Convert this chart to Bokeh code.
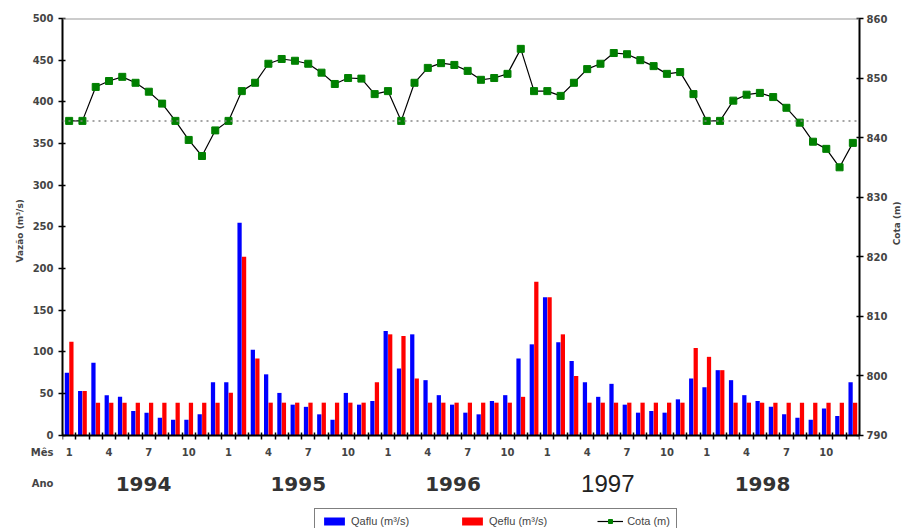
import math
from bokeh.plotting import figure
from bokeh.models import (Range1d, LinearAxis, FixedTicker, Span, Label,
                          Legend, LegendItem, Title)
from bokeh.embed import file_html
from bokeh.resources import INLINE

# ---------------- data ----------------
years = ["1994", "1995", "1996", "1997", "1998"]
month_numbers = list(range(1, 13)) * 5
months = list(range(1, 61))
qaflu = [75, 53, 87, 48, 46, 29, 27, 21, 18.5, 18.5, 25, 63.5,
         63.5, 255, 102.6, 73, 50.7, 36.6, 34, 25, 18.5, 50.7, 36.6, 41,
         125, 80, 121, 66, 48, 36.6, 27, 25, 41, 48, 92, 109,
         165.5, 111.5, 89, 63.5, 46, 61.6, 36.6, 27, 29, 27, 43, 68,
         57.5, 78, 66, 48, 41, 34, 25, 21, 18.5, 32, 23, 63.5]
qeflu = [112, 53, 39, 39, 39, 39, 39, 39, 39, 39, 39, 39,
         51, 214, 92, 39, 39, 39, 39, 39, 39, 39, 39, 63.5,
         121, 119, 68, 39, 39, 39, 39, 39, 39, 39, 46, 184,
         165.5, 121, 71, 39, 39, 39, 39, 39, 39, 39, 39, 104.6,
         94, 78, 39, 39, 39, 39, 39, 39, 39, 39, 39, 39]
cota = [842.8, 842.8, 848.5, 849.5, 850.2, 849.2, 847.7, 845.7, 842.8, 839.6, 836.9, 841.2,
        842.8, 847.8, 849.2, 852.4, 853.2, 852.9, 852.4, 850.9, 849.0, 850.0, 849.9, 847.3,
        847.8, 842.8, 849.2, 851.7, 852.5, 852.2, 851.2, 849.7, 850.0, 850.7, 854.9, 847.8,
        847.8, 847.0, 849.2, 851.5, 852.4, 854.2, 854.0, 853.0, 852.0, 850.7, 851.0, 847.3,
        842.8, 842.8, 846.2, 847.2, 847.5, 846.8, 845.0, 842.5, 839.3, 838.1, 835.0, 839.1]
cota_ref = 842.8
vazao_ticks = list(range(0, 501, 50))
cota_ticks = list(range(790, 861, 10))
label_months = [1, 4, 7, 10]

FONT = "DejaVu Sans"

# room below the value axes (fraction of the axis span) for month/year rows and legend
pad = 112 / 500
vmin, vmax = vazao_ticks[0], vazao_ticks[-1]
cmin, cmax = cota_ticks[0], cota_ticks[-1]

p = figure(width=910, height=528, output_backend="svg", toolbar_location=None,
           x_range=Range1d(0.5, 60.5),
           y_range=Range1d(vmin - pad * (vmax - vmin), vmax),
           min_border_left=62, min_border_right=47, min_border_top=18,
           min_border_bottom=0)
p.extra_y_ranges = {"cota": Range1d(cmin - pad * (cmax - cmin), cmax)}
p.xgrid.visible = False
p.ygrid.visible = False
p.outline_line_color = None

# top border
p.add_layout(Span(location=vmax, dimension="width", line_color="#999999", line_width=2))

# bars
off = 0.17
bw = 0.32
r_a = p.vbar(x=[m - off for m in months], top=qaflu, width=bw,
             fill_color="#0000FF", line_color=None)
r_e = p.vbar(x=[m + off for m in months], top=qeflu, width=bw,
             fill_color="#FF0000", line_color=None)

# reference level
p.add_layout(Span(location=cota_ref, dimension="width", y_range_name="cota",
                  line_color="#888888", line_dash="dotted", line_width=1.5))

# cota line
r_l = p.line(months, cota, y_range_name="cota", line_color="black", line_width=1.2)
r_m = p.scatter(months, cota, y_range_name="cota", marker="square", size=7,
                fill_color="#008000", line_color="#008000")

# x axis at value 0: month labels, minor ticks at month boundaries
xa = p.xaxis[0]
xa.fixed_location = 0
major = [m for m, n in zip(months, month_numbers) if n in label_months]
xa.ticker = FixedTicker(ticks=major, minor_ticks=[m + 0.5 for m in [0] + months])
xa.major_label_overrides = {m: str(n) for m, n in zip(months, month_numbers) if n in label_months}
xa.major_tick_in = 0
xa.major_tick_out = 0
xa.minor_tick_in = 3
xa.minor_tick_out = 4
xa.minor_tick_line_color = "black"
xa.minor_tick_line_width = 1.5
xa.major_label_standoff = 9
xa.axis_line_color = "black"
xa.axis_line_width = 2
xa.major_label_text_font = FONT
xa.major_label_text_font_style = "bold"
xa.major_label_text_font_size = "10px"

# left side: inner axis (line + ticks), middle axis (labels + row titles), outer title
row_mes = -21
row_ano = -58
ya = p.yaxis[0]
ya.ticker = FixedTicker(ticks=vazao_ticks)
ya.bounds = (vmin, vmax)
ya.major_label_overrides = {v: "" for v in vazao_ticks}
ya.major_label_standoff = 0
ya.major_tick_in = 3
ya.major_tick_out = 4
ya.major_tick_line_width = 1.5
ya.minor_tick_line_color = None
ya.axis_line_width = 2

mid = LinearAxis(ticker=FixedTicker(ticks=vazao_ticks + [row_mes, row_ano]),
                 major_label_overrides={row_mes: "Mês", row_ano: "Ano"})
mid.axis_line_color = None
mid.major_tick_line_color = None
mid.minor_tick_line_color = None
mid.major_tick_out = 0
mid.major_tick_in = 0
mid.major_label_standoff = 5
mid.major_label_text_font = FONT
mid.major_label_text_font_style = "bold"
mid.major_label_text_font_size = "10px"
p.add_layout(mid, "left")

p.add_layout(Title(text="Vazão (m³/s)", align="left", offset=266, standoff=6,
                   text_font=FONT, text_font_style="bold", text_font_size="9px"),
             "left")

# right axis
ra = LinearAxis(y_range_name="cota", ticker=FixedTicker(ticks=cota_ticks),
                bounds=(cmin, cmax))
ra.axis_label = "\u00a0" * 9 + "Cota (m)"
ra.axis_label_text_font = FONT
ra.axis_label_text_font_style = "bold"
ra.axis_label_text_font_size = "9px"
ra.axis_label_standoff = 7
if "axis_label_orientation" in LinearAxis.properties():
    ra.axis_label_orientation = math.pi / 2
ra.major_label_text_font = FONT
ra.major_label_text_font_style = "bold"
ra.major_label_text_font_size = "10px"
ra.major_label_standoff = 3
ra.major_tick_in = 3
ra.major_tick_out = 4
ra.major_tick_line_width = 1.5
ra.minor_tick_line_color = None
ra.axis_line_width = 2
p.add_layout(ra, "right")

# year labels
for i, yr in enumerate(years):
    big = yr == "1997"
    p.add_layout(Label(x=11.65 * i + 6.6, y=row_ano, text=yr,
                       text_align="center", text_baseline="middle",
                       text_font="Liberation Sans" if big else FONT,
                       text_font_style="normal" if big else "bold",
                       text_font_size="24px" if big else "20px",
                       text_color="#222222" if big else "#333333"))

legend = Legend(items=[LegendItem(label="Qaflu (m³/s)", renderers=[r_a]),
                       LegendItem(label="Qeflu (m³/s)", renderers=[r_e]),
                       LegendItem(label="Cota (m)", renderers=[r_l, r_m])],
                orientation="horizontal", location=(252, -6),
                label_text_font="Liberation Sans", label_text_font_size="11px",
                glyph_width=26, glyph_height=10, spacing=50, padding=6,
                margin=0, label_standoff=4, label_height=12,
                border_line_color="black", border_line_width=1.5)
p.add_layout(legend, "center")

open("out.html", "w").write(file_html(p, INLINE))
